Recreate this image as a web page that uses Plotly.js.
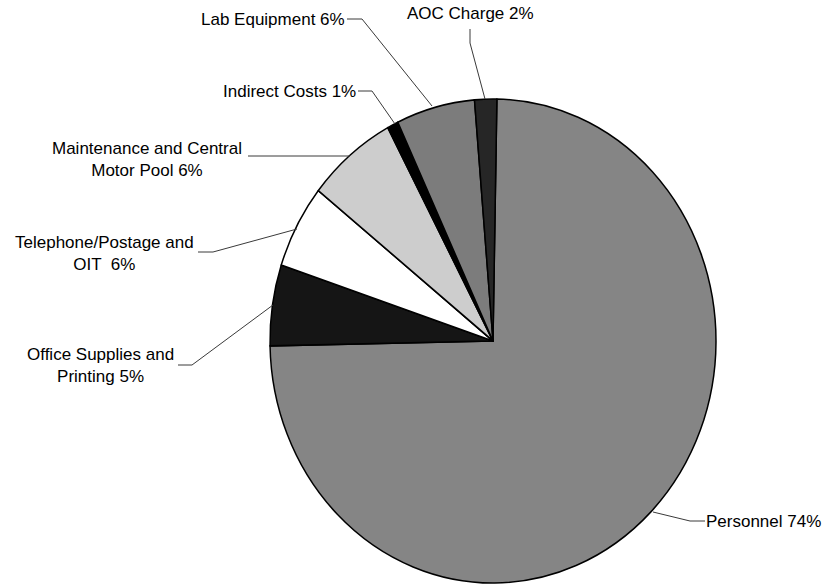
<!DOCTYPE html>
<html>
<head>
<meta charset="utf-8">
<script src="https://cdn.plot.ly/plotly-3.0.1.min.js"></script>
<style>
  html, body { margin: 0; padding: 0; background: #ffffff; }
  #chart { width: 826px; height: 585px; }
  /* the reference pie is a slightly tall ellipse */
  #chart .pielayer { transform: scaleY(1.0852); transform-origin: 493px 341px; }
</style>
</head>
<body>
<div id="chart"></div>
<script>
// ---- data ----
const categories = [
  "Personnel",
  "Office Supplies and Printing",
  "Telephone/Postage and OIT",
  "Maintenance and Central Motor Pool",
  "Indirect Costs",
  "Lab Equipment",
  "AOC Charge"
];
const values = [74.4, 5.4, 5.6, 6.5, 0.8, 5.7, 1.6];
const labelTexts = [
  "Personnel 74%",
  "Office Supplies and<br>Printing 5%",
  "Telephone/Postage and<br>OIT  6%",
  "Maintenance and Central<br>Motor Pool 6%",
  "Indirect Costs 1%",
  "Lab Equipment 6%",
  "AOC Charge 2%"
];

// ---- styles / layout ----
const sliceColors = ["#858585", "#151515", "#ffffff", "#cdcdcd", "#000000", "#7c7c7c", "#262626"];
const W = 826, H = 585;
const px = x => x / W;
const py = y => 1 - y / H;

// label anchor positions (pixels), same order as categories
const labelPos = [
  [763.5, 521], [100.4, 365.5], [104, 253], [146.6, 159.5], [289, 91.5], [273.3, 19.5], [470.5, 13.5]
];
// leader line polylines (pixels), same order as categories
const leaders = [
  [[653, 512], [690, 521], [705, 521]],
  [[178, 365], [192, 365], [273, 305]],
  [[198, 252], [213, 252], [297, 229]],
  [[248, 156], [350, 156]],
  [[358, 91], [372, 91], [395, 124]],
  [[347, 19], [362, 19], [432, 106]],
  [[470, 29], [470, 43], [485, 99]]
];

const annotations = labelTexts.map((t, i) => ({
  text: t,
  x: px(labelPos[i][0]), y: py(labelPos[i][1]),
  xref: "paper", yref: "paper",
  xanchor: "center", yanchor: "middle",
  align: "center",
  showarrow: false,
  font: { family: "Liberation Sans, Arial, sans-serif", size: 17, color: "#000000" }
}));

const shapes = [];
leaders.forEach(pts => {
  for (let k = 0; k < pts.length - 1; k++) {
    shapes.push({
      type: "line", xref: "paper", yref: "paper",
      x0: px(pts[k][0]), y0: py(pts[k][1]),
      x1: px(pts[k + 1][0]), y1: py(pts[k + 1][1]),
      line: { color: "#3a3a3a", width: 1 }
    });
  }
});

const cx = 493, cy = 341, r = 223, rv = 242;
const trace = {
  type: "pie",
  labels: categories,
  values: values,
  sort: false,
  direction: "clockwise",
  rotation: 1,
  textinfo: "none",
  hoverinfo: "label+percent",
  marker: { colors: sliceColors, line: { color: "#000000", width: 1.5 } },
  domain: {
    x: [(cx - r) / W, (cx + r) / W],
    y: [(H - cy - rv) / H, (H - cy + rv) / H]
  },
  showlegend: false
};

const layout = {
  width: W, height: H,
  margin: { l: 0, r: 0, t: 0, b: 0 },
  paper_bgcolor: "#ffffff",
  plot_bgcolor: "#ffffff",
  showlegend: false,
  annotations: annotations,
  shapes: shapes
};

Plotly.newPlot("chart", [trace], layout, { displayModeBar: false, staticPlot: true });
</script>
</body>
</html>
